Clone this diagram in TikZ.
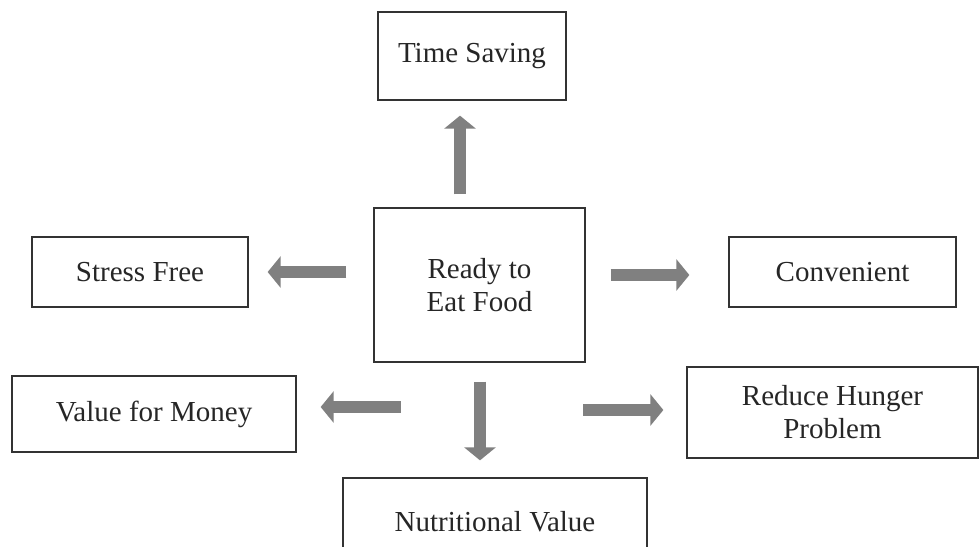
\documentclass[tikz,border=0pt]{standalone}
\usepackage{fontspec}
\setmainfont{Liberation Serif}
\usetikzlibrary{arrows.meta}

\tikzset{
  box/.style={draw=black!80, line width=1.3pt, fill=white, inner sep=0pt,
    align=center, text=black!85, font=\fontsize{29}{33}\selectfont},
  bigarrow/.style={draw=black!50, line width=12.5pt,
    -{Triangle[width=31pt, length=13pt]}}
}

\begin{document}
\begin{tikzpicture}[x=1pt, y=-1pt]
        \clip (0, 0) rectangle (979, 546);
        \node[box, minimum width=211pt, minimum height=154pt] (food) at (479.5, 285) {Ready to\\Eat Food};
        \node[box, minimum width=188pt, minimum height=88pt] (time) at (472, 56) {Time Saving};
        \node[box, minimum width=216pt, minimum height=70pt] (stress) at (140, 272) {Stress Free};
        \node[box, minimum width=227pt, minimum height=70pt] (conv) at (842.5, 272) {Convenient};
        \node[box, minimum width=284pt, minimum height=76pt] (money) at (154, 414) {Value for Money};
        \node[box, minimum width=291pt, minimum height=91pt] (hunger) at (832.5, 412.5) {Reduce Hunger\\Problem};
        \node[box, minimum width=304pt, minimum height=88pt] (nutri) at (495, 522) {Nutritional Value};
        \draw[bigarrow] ([xshift=-19.5pt, yshift=13pt]food.north) -- ([xshift=-12pt, yshift=-15pt]time.south);
        \draw[bigarrow] ([xshift=-27pt]food.west |- stress.east) -- ([xshift=19pt]stress.east);
        \draw[bigarrow] ([xshift=25pt, yshift=-3pt]food.east |- conv.west) -- ([xshift=-39pt, yshift=-3pt]conv.west);
        \draw[bigarrow] ([xshift=104pt, yshift=7pt]money.east) -- ([xshift=24pt, yshift=7pt]money.east);
        \draw[bigarrow] ([xshift=0.5pt, yshift=-19pt]food.south) -- ([xshift=-15pt, yshift=17pt]nutri.north);
        \draw[bigarrow] ([xshift=-103pt, yshift=2.5pt]hunger.west) -- ([xshift=-23pt, yshift=2.5pt]hunger.west);
    \end{tikzpicture}
\end{document}
